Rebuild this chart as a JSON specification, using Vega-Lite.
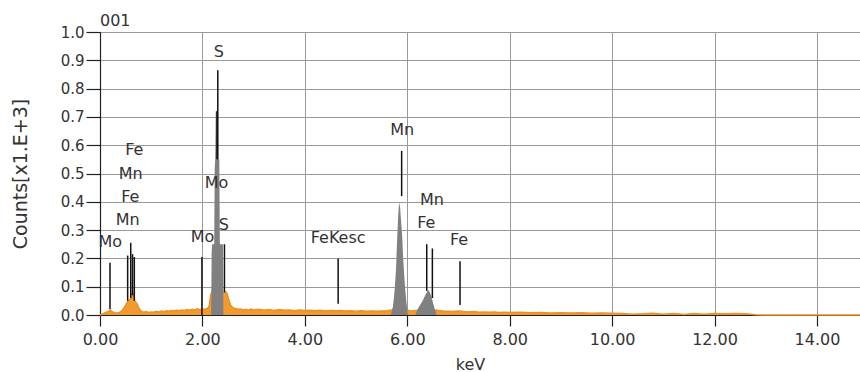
{
  "$schema": "https://vega.github.io/schema/vega-lite/v6.json",
  "width": 760,
  "height": 283,
  "autosize": {"type": "none"},
  "padding": {"left": 100, "top": 32, "right": 0, "bottom": 57},
  "background": "white",
  "title": {"text": "001", "anchor": "start", "frame": "group", "offset": 6, "dy": 23, "baseline": "alphabetic", "fontSize": 16, "font": "DejaVu Sans", "fontWeight": "normal", "color": "#333333"},
  "config": {
    "view": {"stroke": "#222222"},
    "font": "DejaVu Sans",
    "axis": {"labelFont": "DejaVu Sans", "titleFont": "DejaVu Sans", "labelColor": "#333333", "titleColor": "#333333", "titleFontWeight": "normal", "gridColor": "#999999", "gridOpacity": 1, "domainColor": "#222222", "tickColor": "#222222", "tickWidth": 1.2, "domainWidth": 1.2, "labelOverlap": false}
  },
  "datasets": {
    "spectrum": [
      {"e": 0.00, "c": 0.000}, {"e": 0.04, "c": 0.003}, {"e": 0.08, "c": 0.006}, {"e": 0.12, "c": 0.010}, {"e": 0.16, "c": 0.012},
      {"e": 0.20, "c": 0.016}, {"e": 0.23, "c": 0.013}, {"e": 0.26, "c": 0.010}, {"e": 0.30, "c": 0.008}, {"e": 0.34, "c": 0.007},
      {"e": 0.38, "c": 0.009}, {"e": 0.42, "c": 0.014}, {"e": 0.46, "c": 0.022}, {"e": 0.50, "c": 0.035}, {"e": 0.53, "c": 0.045},
      {"e": 0.56, "c": 0.050}, {"e": 0.58, "c": 0.055}, {"e": 0.60, "c": 0.058}, {"e": 0.62, "c": 0.075}, {"e": 0.64, "c": 0.080},
      {"e": 0.66, "c": 0.060}, {"e": 0.68, "c": 0.050}, {"e": 0.70, "c": 0.045}, {"e": 0.72, "c": 0.040}, {"e": 0.75, "c": 0.028},
      {"e": 0.78, "c": 0.018}, {"e": 0.82, "c": 0.012}, {"e": 0.86, "c": 0.010}, {"e": 0.90, "c": 0.012}, {"e": 0.95, "c": 0.009},
      {"e": 1.00, "c": 0.011}, {"e": 1.05, "c": 0.010}, {"e": 1.10, "c": 0.013}, {"e": 1.15, "c": 0.011}, {"e": 1.20, "c": 0.014},
      {"e": 1.25, "c": 0.012}, {"e": 1.30, "c": 0.015}, {"e": 1.35, "c": 0.013}, {"e": 1.40, "c": 0.016}, {"e": 1.45, "c": 0.014},
      {"e": 1.50, "c": 0.017}, {"e": 1.55, "c": 0.015}, {"e": 1.60, "c": 0.018}, {"e": 1.65, "c": 0.016}, {"e": 1.70, "c": 0.019},
      {"e": 1.75, "c": 0.017}, {"e": 1.80, "c": 0.020}, {"e": 1.85, "c": 0.018}, {"e": 1.90, "c": 0.022}, {"e": 1.95, "c": 0.019},
      {"e": 2.00, "c": 0.021}, {"e": 2.05, "c": 0.020}, {"e": 2.10, "c": 0.024}, {"e": 2.13, "c": 0.030}, {"e": 2.16, "c": 0.070},
      {"e": 2.18, "c": 0.080}, {"e": 2.30, "c": 0.085}, {"e": 2.40, "c": 0.080}, {"e": 2.43, "c": 0.078}, {"e": 2.45, "c": 0.082},
      {"e": 2.47, "c": 0.080}, {"e": 2.49, "c": 0.070}, {"e": 2.52, "c": 0.050}, {"e": 2.55, "c": 0.035}, {"e": 2.58, "c": 0.028},
      {"e": 2.62, "c": 0.024}, {"e": 2.66, "c": 0.022}, {"e": 2.70, "c": 0.020}, {"e": 2.75, "c": 0.021}, {"e": 2.80, "c": 0.018},
      {"e": 2.85, "c": 0.020}, {"e": 2.90, "c": 0.017}, {"e": 2.95, "c": 0.021}, {"e": 3.00, "c": 0.018}, {"e": 3.10, "c": 0.020},
      {"e": 3.20, "c": 0.017}, {"e": 3.30, "c": 0.019}, {"e": 3.40, "c": 0.016}, {"e": 3.50, "c": 0.019}, {"e": 3.60, "c": 0.017},
      {"e": 3.70, "c": 0.018}, {"e": 3.80, "c": 0.015}, {"e": 3.90, "c": 0.018}, {"e": 4.00, "c": 0.016}, {"e": 4.10, "c": 0.017},
      {"e": 4.20, "c": 0.015}, {"e": 4.30, "c": 0.017}, {"e": 4.40, "c": 0.014}, {"e": 4.50, "c": 0.016}, {"e": 4.60, "c": 0.015},
      {"e": 4.70, "c": 0.016}, {"e": 4.80, "c": 0.014}, {"e": 4.90, "c": 0.015}, {"e": 5.00, "c": 0.013}, {"e": 5.10, "c": 0.015},
      {"e": 5.20, "c": 0.013}, {"e": 5.30, "c": 0.014}, {"e": 5.40, "c": 0.013}, {"e": 5.50, "c": 0.014}, {"e": 5.60, "c": 0.015},
      {"e": 5.70, "c": 0.018}, {"e": 6.00, "c": 0.018}, {"e": 6.05, "c": 0.015}, {"e": 6.10, "c": 0.014}, {"e": 6.15, "c": 0.016},
      {"e": 6.56, "c": 0.018}, {"e": 6.60, "c": 0.016}, {"e": 6.70, "c": 0.014}, {"e": 6.80, "c": 0.013}, {"e": 6.90, "c": 0.012},
      {"e": 7.00, "c": 0.014}, {"e": 7.10, "c": 0.012}, {"e": 7.20, "c": 0.011}, {"e": 7.30, "c": 0.012}, {"e": 7.40, "c": 0.010},
      {"e": 7.50, "c": 0.011}, {"e": 7.60, "c": 0.010}, {"e": 7.70, "c": 0.011}, {"e": 7.80, "c": 0.009}, {"e": 7.90, "c": 0.010},
      {"e": 8.00, "c": 0.009}, {"e": 8.20, "c": 0.010}, {"e": 8.40, "c": 0.008}, {"e": 8.60, "c": 0.009}, {"e": 8.80, "c": 0.007},
      {"e": 9.00, "c": 0.008}, {"e": 9.20, "c": 0.007}, {"e": 9.40, "c": 0.008}, {"e": 9.60, "c": 0.006}, {"e": 9.80, "c": 0.007},
      {"e": 10.00, "c": 0.006}, {"e": 10.20, "c": 0.005}, {"e": 10.40, "c": 0.003}, {"e": 10.60, "c": 0.004}, {"e": 10.80, "c": 0.006},
      {"e": 11.00, "c": 0.003}, {"e": 11.20, "c": 0.005}, {"e": 11.40, "c": 0.002}, {"e": 11.60, "c": 0.005}, {"e": 11.80, "c": 0.003},
      {"e": 12.00, "c": 0.005}, {"e": 12.20, "c": 0.004}, {"e": 12.40, "c": 0.005}, {"e": 12.60, "c": 0.004}, {"e": 12.80, "c": 0.001},
      {"e": 13.00, "c": 0.000}, {"e": 14.84, "c": 0.000}
    ],
    "peaks": [
      {"p": "S", "e": 2.17, "c": 0.00}, {"p": "S", "e": 2.18, "c": 0.22}, {"p": "S", "e": 2.19, "c": 0.25}, {"p": "S", "e": 2.23, "c": 0.25},
      {"p": "S", "e": 2.24, "c": 0.52}, {"p": "S", "e": 2.25, "c": 0.55}, {"p": "S", "e": 2.26, "c": 0.72}, {"p": "S", "e": 2.29, "c": 0.72},
      {"p": "S", "e": 2.30, "c": 0.55}, {"p": "S", "e": 2.33, "c": 0.55}, {"p": "S", "e": 2.34, "c": 0.25}, {"p": "S", "e": 2.40, "c": 0.25},
      {"p": "S", "e": 2.41, "c": 0.00},
      {"p": "MnKa", "e": 5.68, "c": 0.00}, {"p": "MnKa", "e": 5.72, "c": 0.03}, {"p": "MnKa", "e": 5.75, "c": 0.08}, {"p": "MnKa", "e": 5.78, "c": 0.16},
      {"p": "MnKa", "e": 5.80, "c": 0.26}, {"p": "MnKa", "e": 5.82, "c": 0.34}, {"p": "MnKa", "e": 5.84, "c": 0.40}, {"p": "MnKa", "e": 5.86, "c": 0.38},
      {"p": "MnKa", "e": 5.88, "c": 0.33}, {"p": "MnKa", "e": 5.90, "c": 0.28}, {"p": "MnKa", "e": 5.92, "c": 0.20}, {"p": "MnKa", "e": 5.94, "c": 0.14},
      {"p": "MnKa", "e": 5.96, "c": 0.09}, {"p": "MnKa", "e": 5.98, "c": 0.05}, {"p": "MnKa", "e": 6.00, "c": 0.02}, {"p": "MnKa", "e": 6.01, "c": 0.00},
      {"p": "FeKa", "e": 6.16, "c": 0.00}, {"p": "FeKa", "e": 6.20, "c": 0.02}, {"p": "FeKa", "e": 6.25, "c": 0.035}, {"p": "FeKa", "e": 6.30, "c": 0.05},
      {"p": "FeKa", "e": 6.34, "c": 0.065}, {"p": "FeKa", "e": 6.38, "c": 0.08}, {"p": "FeKa", "e": 6.41, "c": 0.088}, {"p": "FeKa", "e": 6.44, "c": 0.08},
      {"p": "FeKa", "e": 6.47, "c": 0.065}, {"p": "FeKa", "e": 6.50, "c": 0.045}, {"p": "FeKa", "e": 6.53, "c": 0.025}, {"p": "FeKa", "e": 6.56, "c": 0.01},
      {"p": "FeKa", "e": 6.57, "c": 0.00}
    ],
    "markers": [
      {"e": 0.195, "lo": 0.02, "hi": 0.185}, {"e": 0.54, "lo": 0.05, "hi": 0.21}, {"e": 0.60, "lo": 0.06, "hi": 0.255},
      {"e": 0.635, "lo": 0.07, "hi": 0.215}, {"e": 0.67, "lo": 0.05, "hi": 0.205}, {"e": 1.99, "lo": 0.0, "hi": 0.205},
      {"e": 2.285, "lo": 0.55, "hi": 0.72}, {"e": 2.30, "lo": 0.55, "hi": 0.865}, {"e": 2.43, "lo": 0.08, "hi": 0.25},
      {"e": 4.65, "lo": 0.04, "hi": 0.2}, {"e": 5.89, "lo": 0.42, "hi": 0.58}, {"e": 6.38, "lo": 0.085, "hi": 0.25},
      {"e": 6.49, "lo": 0.06, "hi": 0.235}, {"e": 7.03, "lo": 0.035, "hi": 0.19}
    ],
    "labels": [
      {"e": 0.20, "c": 0.258, "t": "Mo"}, {"e": 0.54, "c": 0.336, "t": "Mn"}, {"e": 0.59, "c": 0.417, "t": "Fe"},
      {"e": 0.60, "c": 0.50, "t": "Mn"}, {"e": 0.67, "c": 0.583, "t": "Fe"}, {"e": 2.00, "c": 0.275, "t": "Mo"},
      {"e": 2.42, "c": 0.318, "t": "S"}, {"e": 2.275, "c": 0.466, "t": "Mo"}, {"e": 2.32, "c": 0.93, "t": "S"},
      {"e": 4.65, "c": 0.272, "t": "FeKesc"}, {"e": 5.90, "c": 0.654, "t": "Mn"}, {"e": 6.48, "c": 0.406, "t": "Mn"},
      {"e": 6.37, "c": 0.325, "t": "Fe"}, {"e": 7.01, "c": 0.265, "t": "Fe"}
    ]
  },
  "layer": [
    {
      "data": {"name": "spectrum"},
      "mark": {"type": "area", "color": "#F29A2E", "opacity": 1, "line": {"color": "#EE9024", "strokeWidth": 1.5}},
      "encoding": {
        "x": {"field": "e", "type": "quantitative", "scale": {"domain": [0, 14.84], "nice": false, "zero": false},
          "axis": {"title": "keV", "values": [0, 2, 4, 6, 8, 10, 12, 14], "format": ".2f", "tickSize": 11, "labelPadding": 5, "labelFontSize": 16, "titleFontSize": 16, "titleX": 370, "titleY": 41, "titleBaseline": "top", "grid": true, "labelFlush": false}},
        "y": {"field": "c", "type": "quantitative", "scale": {"domain": [0, 1], "nice": false},
          "axis": {"title": "Counts[x1.E+3]", "values": [0, 0.1, 0.2, 0.3, 0.4, 0.5, 0.6, 0.7, 0.8, 0.9, 1.0], "format": ".1f", "tickSize": 14, "labelPadding": 2, "labelFontSize": 15, "titleFontSize": 19, "titlePadding": 30, "grid": true}}
      }
    },
    {
      "data": {"name": "peaks"},
      "mark": {"type": "area", "color": "#808080", "opacity": 1},
      "encoding": {
        "x": {"field": "e", "type": "quantitative",
          "axis": {"title": "keV", "values": [0, 2, 4, 6, 8, 10, 12, 14], "format": ".2f", "tickSize": 11, "labelPadding": 5, "labelFontSize": 16, "titleFontSize": 16, "titleX": 370, "titleY": 41, "titleBaseline": "top", "grid": true, "labelFlush": false}},
        "y": {"field": "c", "type": "quantitative",
          "axis": {"title": "Counts[x1.E+3]", "values": [0, 0.1, 0.2, 0.3, 0.4, 0.5, 0.6, 0.7, 0.8, 0.9, 1.0], "format": ".1f", "tickSize": 14, "labelPadding": 2, "labelFontSize": 15, "titleFontSize": 19, "titlePadding": 30, "grid": true}},
        "detail": {"field": "p"}
      }
    },
    {
      "data": {"name": "markers"},
      "mark": {"type": "rule", "color": "#111111", "strokeWidth": 1.5},
      "encoding": {
        "x": {"field": "e", "type": "quantitative",
          "axis": {"title": "keV", "values": [0, 2, 4, 6, 8, 10, 12, 14], "format": ".2f", "tickSize": 11, "labelPadding": 5, "labelFontSize": 16, "titleFontSize": 16, "titleX": 370, "titleY": 41, "titleBaseline": "top", "grid": true, "labelFlush": false}},
        "y": {"field": "hi", "type": "quantitative",
          "axis": {"title": "Counts[x1.E+3]", "values": [0, 0.1, 0.2, 0.3, 0.4, 0.5, 0.6, 0.7, 0.8, 0.9, 1.0], "format": ".1f", "tickSize": 14, "labelPadding": 2, "labelFontSize": 15, "titleFontSize": 19, "titlePadding": 30, "grid": true}},
        "y2": {"field": "lo"}
      }
    },
    {
      "data": {"name": "labels"},
      "mark": {"type": "text", "font": "DejaVu Sans", "fontSize": 16, "color": "#333333", "align": "center", "baseline": "middle"},
      "encoding": {
        "x": {"field": "e", "type": "quantitative",
          "axis": {"title": "keV", "values": [0, 2, 4, 6, 8, 10, 12, 14], "format": ".2f", "tickSize": 11, "labelPadding": 5, "labelFontSize": 16, "titleFontSize": 16, "titleX": 370, "titleY": 41, "titleBaseline": "top", "grid": true, "labelFlush": false}},
        "y": {"field": "c", "type": "quantitative",
          "axis": {"title": "Counts[x1.E+3]", "values": [0, 0.1, 0.2, 0.3, 0.4, 0.5, 0.6, 0.7, 0.8, 0.9, 1.0], "format": ".1f", "tickSize": 14, "labelPadding": 2, "labelFontSize": 15, "titleFontSize": 19, "titlePadding": 30, "grid": true}},
        "text": {"field": "t"}
      }
    }
  ]
}
